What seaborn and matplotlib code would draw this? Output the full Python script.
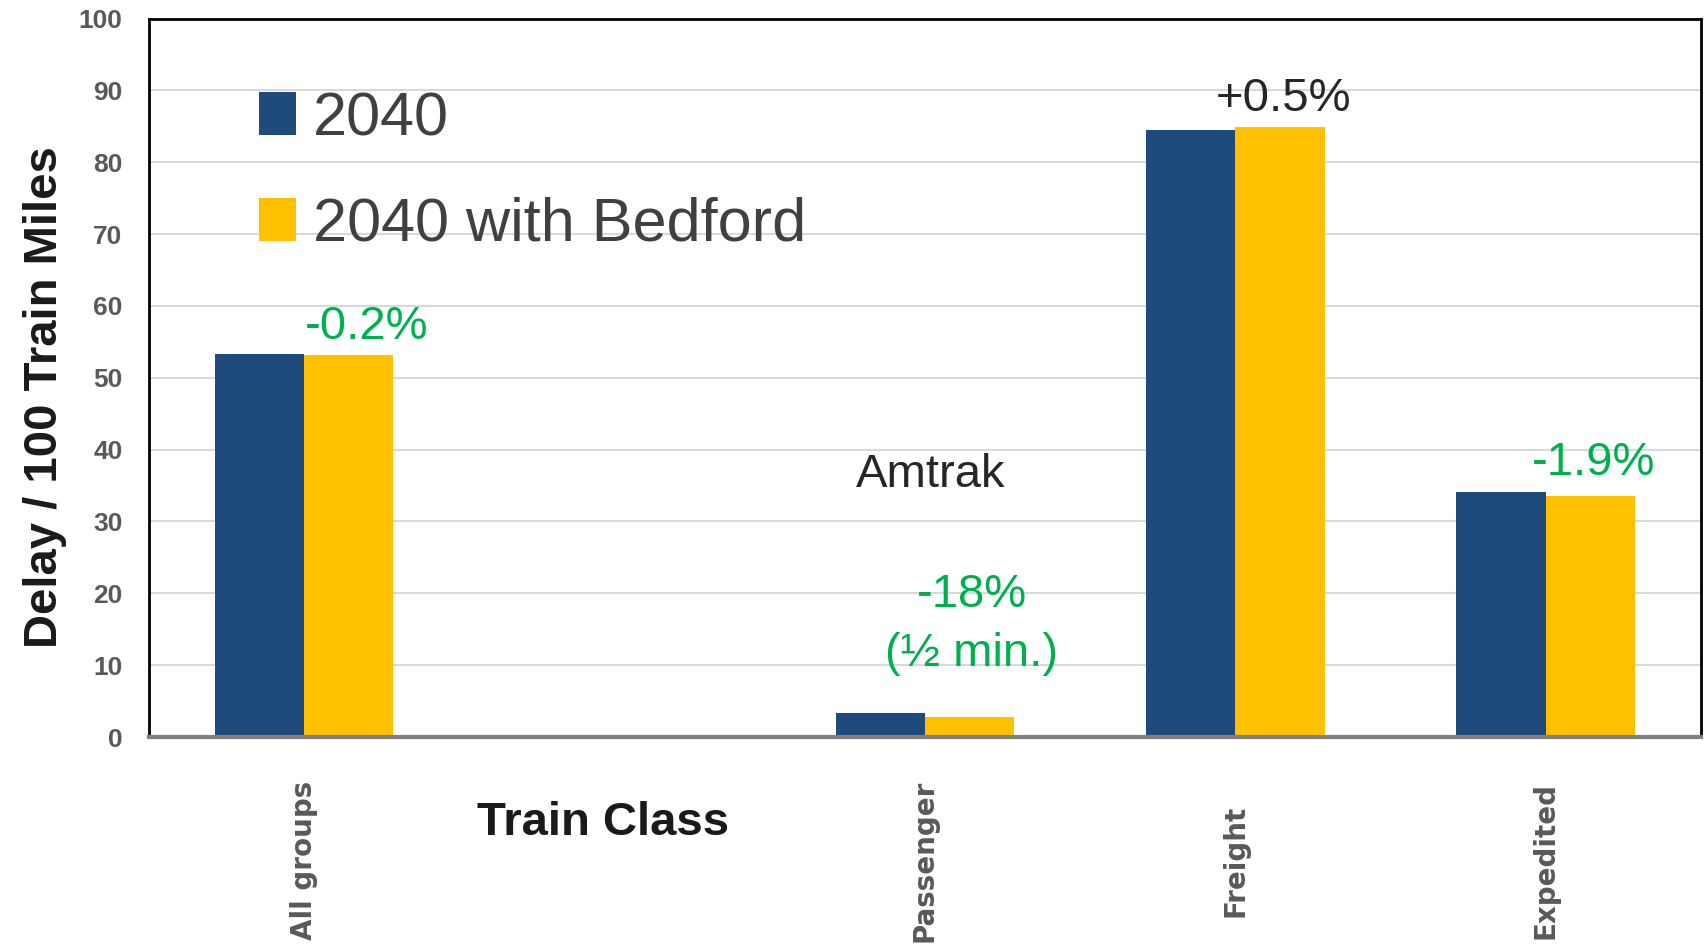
import numpy as np
import pandas as pd
import seaborn as sns
import matplotlib.pyplot as plt
from matplotlib import font_manager

# data
categories = ["All groups", "", "Passenger", "Freight", "Expedited"]
scenarios = ["2040", "2040 with Bedford"]
delay_2040 = [53.3, None, 3.35, 84.5, 34.1]
delay_bedford = [53.2, None, 2.75, 84.9, 33.5]

# annotations: text, x (category position), y (value), colour
notes = [
    ("-0.2%", 0.2, 57.0, "#00b050"),
    ("Amtrak", 2.02, 36.4, "#262626"),
    ("-18%", 2.15, 19.7, "#00b050"),
    ("(½ min.)", 2.15, 11.6, "#00b050"),
    ("+0.5%", 3.155, 88.8, "#262626"),
    ("-1.9%", 4.155, 38.2, "#00b050"),
]

blue = "#1f4a7c"
yellow = "#ffc000"

rows = []
for cat, a, b in zip(categories, delay_2040, delay_bedford):
    if a is None:
        continue
    rows.append((cat, scenarios[0], a))
    rows.append((cat, scenarios[1], b))
df = pd.DataFrame(rows, columns=["Train Class", "Scenario", "Delay"])

sns.set_style("white")
plt.rcParams["font.family"] = ["Liberation Sans", "DejaVu Sans"]

fig = plt.figure(figsize=(17.04, 9.51), dpi=100)
ax = fig.add_axes([0.0874, 0.225, 0.9108, 0.7555])

sns.barplot(data=df, x="Train Class", y="Delay", hue="Scenario",
            order=categories, hue_order=scenarios, palette=[blue, yellow],
            saturation=1, width=0.575, gap=0, linewidth=0, errorbar=None,
            ax=ax)

ax.set_xlim(-0.5, 4.5)
ax.set_ylim(0, 100)
ax.set_yticks(range(0, 101, 10))
ax.tick_params(axis="y", length=0, pad=19, labelsize=19, labelcolor="#595959")
for t in ax.get_yticklabels():
    t.set_fontweight("bold")

ax.set_xticks(range(len(categories)))
ax.set_xticklabels(categories, rotation=90, fontsize=20, fontweight="bold",
                   color="#595959", family="DejaVu Sans", va="center")
ax.tick_params(axis="x", which="major", length=0, pad=89)
ax.set_xticks(np.arange(-0.5, len(categories), 1), minor=True)
ax.tick_params(axis="x", which="minor", length=9.5, width=1, color="#bfbfbf")

ax.yaxis.grid(True, color="#d9d9d9", lw=1.5)
ax.xaxis.grid(False)
ax.set_axisbelow(True)

for s in ["top", "left", "right"]:
    ax.spines[s].set(color="black", linewidth=2)
ax.spines["bottom"].set(color="#808080", linewidth=3)

ax.set_ylabel("Delay / 100 Train Miles", fontsize=34, fontweight="bold",
              color="#1a1a1a", va="center")
ax.yaxis.set_label_coords(-0.067, 0.473)
ax.set_xlabel("Train Class", fontsize=34, fontweight="bold", color="#1a1a1a",
              va="center")
ax.xaxis.set_label_coords(0.2925, -0.119)

for text, x, y, c in notes:
    ax.text(x, y, text, ha="center", va="center", fontsize=34, color=c)

# legend font: condensed face if there is one
names = {f.name for f in font_manager.fontManager.ttflist}
if "Liberation Sans Narrow" in names:
    leg_prop = {"family": "Liberation Sans Narrow", "size": 52}
else:
    leg_prop = {"family": "Liberation Sans", "size": 44}

handles, labels = ax.get_legend_handles_labels()
ax.legend(handles, labels, loc="upper left", bbox_to_anchor=(0.0709, 0.899),
          frameon=False, prop=leg_prop, handlelength=0.61, handleheight=0.7,
          handletextpad=0.28, labelspacing=0.8, labelcolor="#404040",
          borderaxespad=0, borderpad=0)

fig.savefig("out.png", dpi=100)
